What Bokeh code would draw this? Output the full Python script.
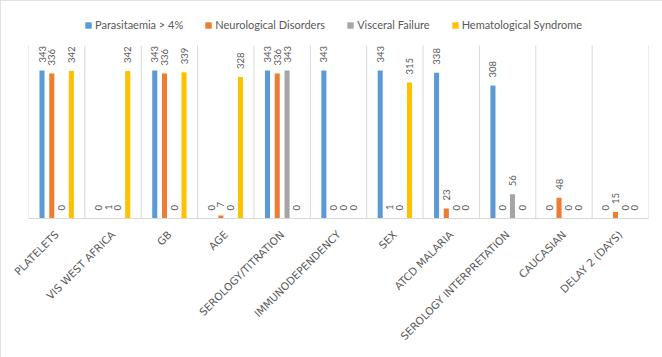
import math
from bokeh.plotting import figure
from bokeh.models import (ColumnDataSource, FixedTicker, Legend, LegendItem, Range1d)
from bokeh.core.properties import value
from bokeh.transform import dodge
from bokeh.embed import file_html
from bokeh.resources import INLINE

categories = ["PLATELETS", "VIS WEST AFRICA", "GB", "AGE", "SEROLOGY/TITRATION",
              "IMMUNODEPENDENCY", "SEX", "ATCD MALARIA", "SEROLOGY INTERPRETATION",
              "CAUCASIAN", "DELAY 2 (DAYS)"]
series_names = ["Parasitaemia > 4%", "Neurological Disorders", "Visceral Failure",
                "Hematological Syndrome"]
parasitaemia = [343, 0, 343, 0, 343, 343, 343, 338, 308, 0, 0]
neurological = [336, 1, 336, 7, 336, 0, 1, 23, 0, 48, 15]
visceral = [0, 0, 0, 0, 343, 0, 0, 0, 56, 0, 0]
hematological = [342, 342, 339, 328, 0, 0, 315, 0, 0, 0, 0]
colors = ["#5B9BD5", "#ED7D31", "#A5A5A5", "#FFC000"]
offsets = [-0.26, -0.087, 0.087, 0.26]
axis_max = 401

n = len(categories)
xc = [i + 0.5 for i in range(n)]
src = ColumnDataSource(dict(x=xc, s0=parasitaemia, s1=neurological, s2=visceral, s3=hematological,
                            t0=[str(v) for v in parasitaemia], t1=[str(v) for v in neurological],
                            t2=[str(v) for v in visceral], t3=[str(v) for v in hematological]))

p = figure(width=662, height=357, output_backend="svg", toolbar_location=None,
           x_range=Range1d(0, n), y_range=Range1d(0, 482),
           y_axis_location=None, min_border_left=28, min_border_right=14,
           min_border_top=10, min_border_bottom=139)
p.styles = {"outline": "1px solid #d9d9d9", "outline-offset": "-1px"}
p.outline_line_color = None
p.background_fill_color = "white"
p.border_fill_color = "white"
p.xgrid.visible = False
p.ygrid.visible = False

# vertical category separators (gridlines)
bounds = list(range(n + 1))
p.segment(x0=bounds, x1=bounds, y0=[0] * (n + 1), y1=[axis_max] * (n + 1),
          line_color="#D9D9D9", line_width=1)

items = []
for k in range(4):
    r = p.vbar(x=dodge("x", offsets[k], range=p.x_range), top="s%d" % k, width=0.09,
               source=src, fill_color=colors[k], line_color=None)
    items.append(LegendItem(label=series_names[k], renderers=[r]))
    p.text(x=dodge("x", offsets[k], range=p.x_range), y="s%d" % k, text="t%d" % k,
           source=src, angle=math.pi / 2, text_align="left", text_baseline="middle",
           y_offset=-8, text_font=value("Lato"), text_font_size="9.5px", text_color="#595959")

legend = Legend(items=items, orientation="horizontal", location=(56, 187),
                glyph_width=8, glyph_height=8, label_standoff=3, spacing=21,
                padding=0, margin=0, border_line_color=None, background_fill_alpha=0,
                label_text_font="Lato", label_text_font_size="11px", label_text_color="#595959",
                label_height=12)
p.add_layout(legend, "center")

p.xaxis.ticker = FixedTicker(ticks=xc)
p.xaxis.major_label_overrides = {x: c for x, c in zip(xc, categories)}
p.xaxis.major_label_orientation = math.pi / 4
p.xaxis.major_label_text_font = "DejaVu Sans"
p.xaxis.major_label_text_font_size = "10.5px"
p.xaxis.major_label_text_color = "#595959"
p.xaxis.major_label_standoff = 8
p.xaxis.axis_line_color = "#D9D9D9"
p.xaxis.major_tick_line_color = None
p.xaxis.minor_tick_line_color = None

open("out.html", "w").write(file_html(p, INLINE))
